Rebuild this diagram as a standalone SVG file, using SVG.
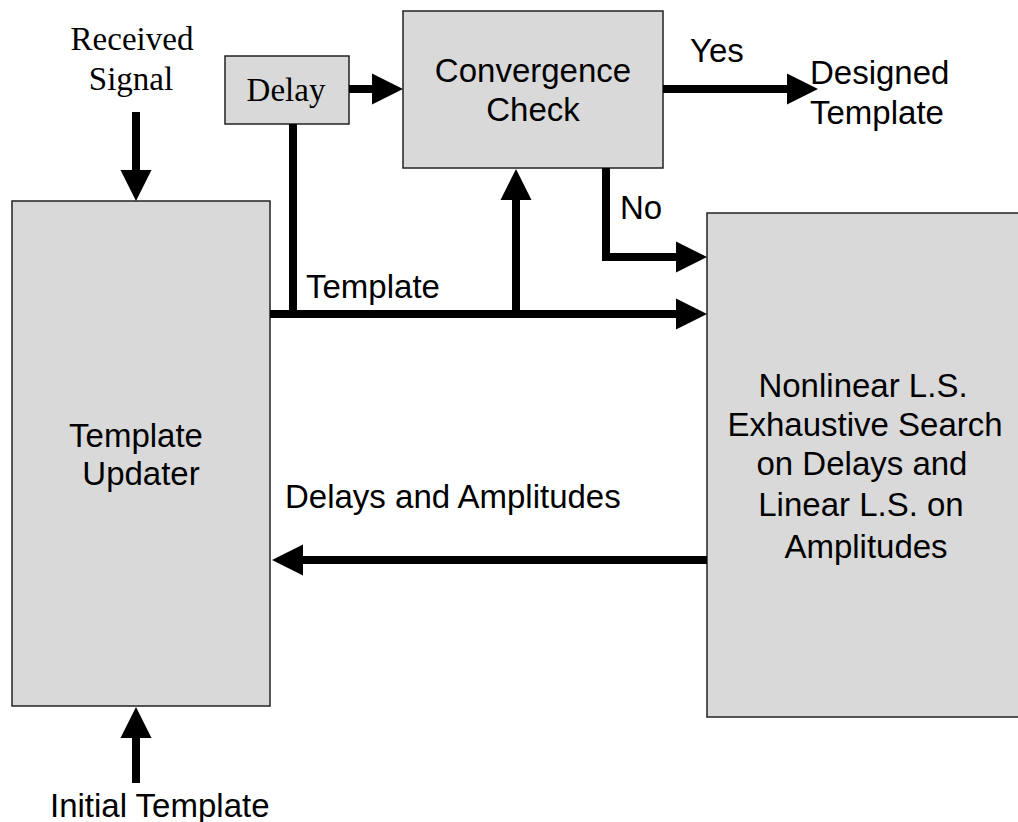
<svg xmlns="http://www.w3.org/2000/svg" width="1018" height="822" viewBox="0 0 1018 822">
<style>
.box{fill:#d9d9d9;stroke:#222;stroke-width:1.5}
.sans{font-family:"Liberation Sans",Arial,sans-serif;font-size:33px;fill:#000}
.serif{font-family:"Liberation Serif","Times New Roman",serif;font-size:33px;fill:#000}
.wire{fill:none;stroke:#000;stroke-width:8}
.mid{text-anchor:middle}
</style>
<defs>
<marker id="ah" viewBox="0 -16 31 32" markerWidth="31" markerHeight="32" refX="1" refY="0" orient="auto" markerUnits="userSpaceOnUse">
<path d="M0,-15.5 L31,0 L0,15.5 Z" fill="#000"/>
</marker>
</defs>
<rect width="1018" height="822" fill="#fff"/>
<g id="received-signal">
<text class="serif mid" x="132" y="50">Received</text>
<text class="serif mid" x="131" y="90">Signal</text>
</g>
<g id="delay">
<rect class="box" x="225" y="56" width="124" height="68"/>
<text class="serif mid" x="286" y="101">Delay</text>
</g>
<g id="convergence-check">
<rect class="box" x="403" y="11" width="260" height="157"/>
<text class="sans mid" x="533" y="82">Convergence</text>
<text class="sans mid" x="533" y="121">Check</text>
</g>
<g id="designed-template">
<text class="sans" x="810" y="84">Designed</text>
<text class="sans" x="810" y="124">Template</text>
</g>
<g id="template-updater">
<rect class="box" x="12" y="201" width="258" height="505"/>
<text class="sans mid" x="136" y="447">Template</text>
<text class="sans mid" x="141" y="485">Updater</text>
</g>
<g id="nonlinear-ls">
<rect class="box" x="707" y="213" width="320" height="504"/>
<text class="sans mid" x="863" y="397">Nonlinear L.S.</text>
<text class="sans mid" x="865" y="436">Exhaustive Search</text>
<text class="sans mid" x="862" y="475">on Delays and</text>
<text class="sans mid" x="861" y="516">Linear L.S. on</text>
<text class="sans mid" x="866" y="558">Amplitudes</text>
</g>
<g id="initial-template">
<text class="sans" x="50" y="817">Initial Template</text>
</g>
<g id="connectors">
<line class="wire" x1="136" y1="112" x2="136" y2="171" marker-end="url(#ah)"/>
<line class="wire" x1="349" y1="89" x2="373" y2="89" marker-end="url(#ah)"/>
<polyline class="wire" points="293,124 293,314"/>
<line class="wire" x1="270" y1="314" x2="677" y2="314" marker-end="url(#ah)"/>
<line class="wire" x1="516" y1="318" x2="516" y2="199" marker-end="url(#ah)"/>
<polyline class="wire" points="606,168 606,257 677,257" marker-end="url(#ah)"/>
<line class="wire" x1="663" y1="89" x2="788" y2="89" marker-end="url(#ah)"/>
<line class="wire" x1="707" y1="560" x2="302" y2="560" marker-end="url(#ah)"/>
<line class="wire" x1="136" y1="783" x2="136" y2="737" marker-end="url(#ah)"/>
</g>
<g id="labels">
<text class="sans" x="690" y="62">Yes</text>
<text class="sans" x="620" y="219">No</text>
<text class="sans" x="306" y="298">Template</text>
<text class="sans" x="285" y="508">Delays and Amplitudes</text>
</g>
</svg>
